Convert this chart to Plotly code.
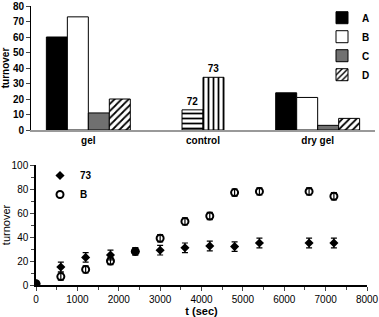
import plotly.graph_objects as go

# ---- top panel data ----
bar_categories = ['gel', 'dry gel']
turnover_A = [60, 24]
turnover_B = [73, 21]
turnover_C = [11, 3]
turnover_D = [20, 7.5]
control_category = ['control']
control_72 = [13]
control_73 = [34]

# ---- bottom panel data ----
time_s = [0, 600, 1200, 1800, 2400, 3000, 3600, 4200, 4800, 5400, 6600, 7200]
kin_73 = [1, 15, 23, 25, 28, 29, 31, 32.5, 32, 35, 35, 35]
err_73 = [1, 4, 4, 4, 3, 4, 4, 4, 4, 4, 4, 4]
kin_B = [1, 7, 13, 20, 28, 39, 53, 57.5, 77, 78, 78, 74]
err_B = [1, 3, 3, 3, 3, 3, 3, 3, 3, 3, 3, 3]

FONT = 'Liberation Sans'
w = 0.183

fig = go.Figure()

def bar(name, x, y, offset, color, pattern=None, show=True, text=None):
    marker = dict(color=color, line=dict(color='black', width=1))
    if pattern:
        marker['pattern'] = dict(shape=pattern, fgcolor='black', bgcolor='white',
                                 size=5, solidity=0.35)
    fig.add_trace(go.Bar(name=name, x=x, y=y, width=w, offset=offset, marker=marker,
                         showlegend=show, legend='legend', xaxis='x', yaxis='y',
                         text=text, textposition='outside' if text else None,
                         textfont=dict(family=FONT, size=10, color='black', weight='bold'),
                         cliponaxis=False))

bar('A', bar_categories, turnover_A, -2 * w, 'black')
bar('B', bar_categories, turnover_B, -w, 'white')
bar('C', bar_categories, turnover_C, 0, '#707070')
bar('D', bar_categories, turnover_D, w, 'white', pattern='/')
bar('72', control_category, control_72, -w, 'white', pattern='-', show=False, text=['72'])
bar('73', control_category, control_73, 0, 'white', pattern='|', show=False, text=['73'])

fig.add_trace(go.Scatter(name='73', x=time_s, y=kin_73, mode='markers',
                         marker=dict(symbol='diamond', size=7, color='black'),
                         error_y=dict(type='data', array=err_73, color='black', thickness=1.2, width=3),
                         xaxis='x2', yaxis='y2', legend='legend2'))
fig.add_trace(go.Scatter(name='B', x=time_s, y=kin_B, mode='markers',
                         marker=dict(symbol='circle-open', size=7, color='black', line=dict(width=2)),
                         error_y=dict(type='data', array=err_B, color='black', thickness=1.2, width=3),
                         xaxis='x2', yaxis='y2', legend='legend2'))

L, R, T, B = 31, 4, 6, 32
W, H = 379, 317
pw, ph = W - L - R, H - T - B

def py(p):
    return (H - B - p) / ph

def px(p):
    return (p - L) / pw

fig.update_layout(
    template='none',
    width=W, height=H,
    margin=dict(l=L, r=R, t=T, b=B, autoexpand=False),
    paper_bgcolor='white', plot_bgcolor='white',
    font=dict(family=FONT, size=10, color='black'),
    barmode='overlay',
    xaxis=dict(domain=[0, 1], anchor='y', categoryorder='array',
               categoryarray=['gel', 'control', 'dry gel'], range=[-0.5, 2.5],
               showline=True, linecolor='#999999', linewidth=2, ticks='',
               tickfont=dict(size=10, weight='bold'), showgrid=False, automargin=False),
    yaxis=dict(domain=[py(130), py(6)], anchor='x', range=[0, 80], dtick=10,
               showline=True, linecolor='black', linewidth=1, ticks='outside',
               ticklen=4, tickfont=dict(size=10, weight='bold'), showgrid=False,
               zeroline=False, automargin=False,
               title=dict(text='turnover', font=dict(size=10, weight='bold'), standoff=4)),
    xaxis2=dict(domain=[px(36), px(367)], anchor='y2', range=[0, 8000], dtick=1000,
                showline=True, linecolor='black', linewidth=1.5, ticks='outside', ticklen=4,
                minor=dict(dtick=500, ticks='outside', ticklen=3, showgrid=False),
                showgrid=False, zeroline=False, automargin=False,
                title=dict(text='t (sec)', font=dict(size=11, weight='bold'), standoff=2)),
    yaxis2=dict(domain=[0, py(165)], anchor='x2', range=[0, 100], dtick=20,
                showline=True, linecolor='black', linewidth=1.5, ticks='outside', ticklen=4,
                minor=dict(dtick=10, ticks='outside', ticklen=3, showgrid=False),
                showgrid=False, zeroline=False, automargin=False,
                title=dict(text='turnover', font=dict(size=11), standoff=4)),
    legend=dict(x=1, y=1.01, xanchor='right', yanchor='top',
                bgcolor='rgba(0,0,0,0)', font=dict(size=10, weight='bold'),
                itemwidth=30, tracegroupgap=0),
    legend2=dict(x=px(40), y=py(161), xanchor='left', yanchor='top',
                 bgcolor='rgba(0,0,0,0)', font=dict(size=10, weight='bold'),
                 itemwidth=30, tracegroupgap=0),
    showlegend=True,
)

fig.write_html('out.html', post_script="document.body.style.margin='0';",
               config={'displayModeBar': False})
